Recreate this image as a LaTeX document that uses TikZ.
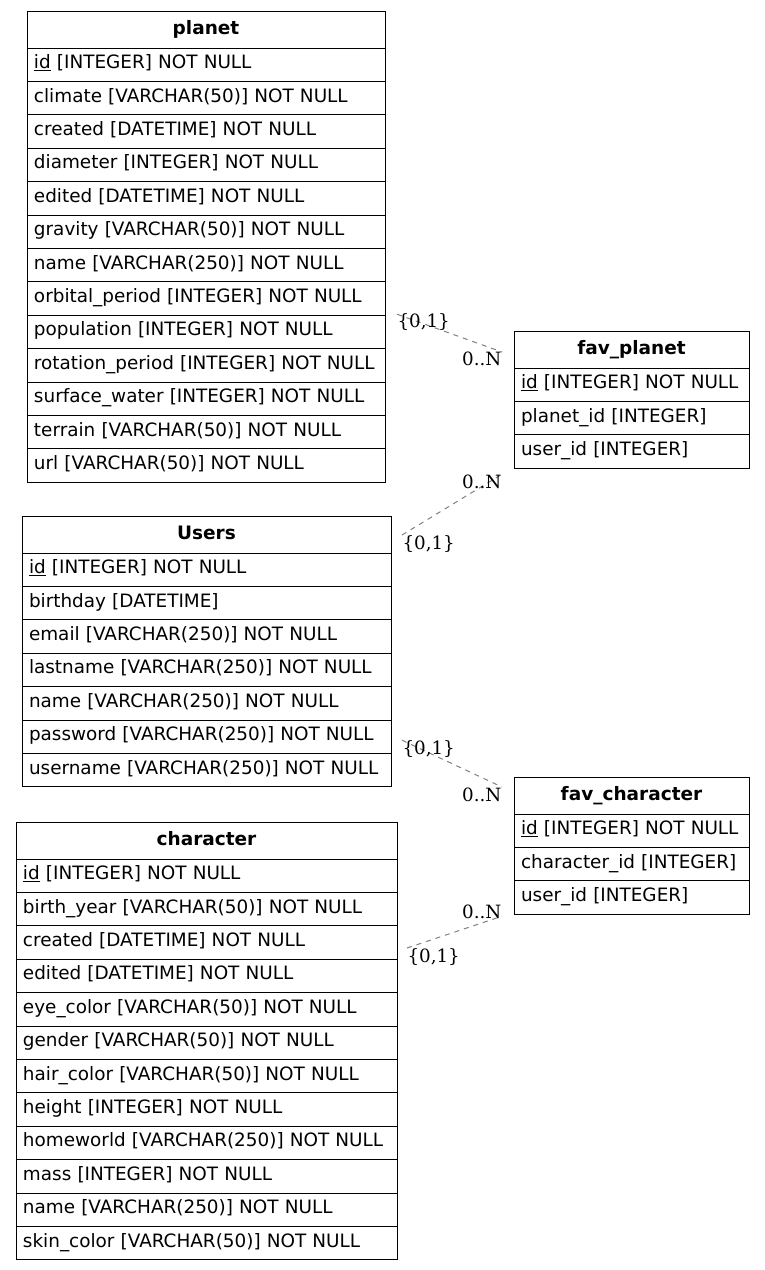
\documentclass[tikz,border=0pt]{standalone}
\usepackage{fontspec}
\setmainfont{DejaVu Sans}
\newfontfamily\cardfont{DejaVu Serif}
\usetikzlibrary{positioning,calc}

\tikzset{
  tabhead/.style={draw, line width=1pt, inner sep=0pt, outer sep=0pt,
    minimum height=37pt, text height=14pt, text depth=5pt,
    font=\fontsize{18.5}{22}\selectfont\bfseries},
  tabrow/.style={draw, line width=1pt, inner xsep=7pt, inner ysep=0pt, outer sep=0pt,
    minimum height=33.4pt, text height=14pt, text depth=6pt,
    align=left, font=\fontsize{18.4}{22}\selectfont},
  relation/.style={draw=gray, line width=1pt, dash pattern=on 5pt off 5pt},
  card/.style={font=\cardfont\fontsize{18.3}{22}\selectfont, inner sep=0pt},
}

% table: name, x, y, width, title, rows
\newcommand\ertable[6]{%
  \pgfmathsetlengthmacro\rowtw{#4-14pt}
  \node[tabhead, minimum width=#4, anchor=north west] (#1) at (#2,#3) {#5};
  \foreach \rowtext [count=\i] in {#6}
    \node[tabrow, minimum width=#4, text width=\rowtw, anchor=north west]
      (#1-\i) at ($(#1.south west)+(0,{(\i-1)*33.4})$) {\rowtext};
}

\begin{document}
\begin{tikzpicture}[x=1pt, y=-1pt]
    \useasboundingbox[fill=white] (0,0) rectangle (765,1270);

    % Tables
    \ertable{planet}{27}{11}{358}{planet}{\underline{id} [INTEGER] NOT NULL,
      climate [VARCHAR(50)] NOT NULL, created [DATETIME] NOT NULL,
      diameter [INTEGER] NOT NULL, edited [DATETIME] NOT NULL,
      gravity [VARCHAR(50)] NOT NULL, name [VARCHAR(250)] NOT NULL,
      orbital\_period [INTEGER] NOT NULL, population [INTEGER] NOT NULL,
      rotation\_period [INTEGER] NOT NULL, surface\_water [INTEGER] NOT NULL,
      terrain [VARCHAR(50)] NOT NULL, url [VARCHAR(50)] NOT NULL}
    \ertable{users}{22}{516}{369}{Users}{\underline{id} [INTEGER] NOT NULL,
      birthday [DATETIME], email [VARCHAR(250)] NOT NULL,
      lastname [VARCHAR(250)] NOT NULL, name [VARCHAR(250)] NOT NULL,
      password [VARCHAR(250)] NOT NULL, username [VARCHAR(250)] NOT NULL}
    \ertable{character}{16}{822}{381}{character}{\underline{id} [INTEGER] NOT NULL,
      birth\_year [VARCHAR(50)] NOT NULL, created [DATETIME] NOT NULL,
      edited [DATETIME] NOT NULL, eye\_color [VARCHAR(50)] NOT NULL,
      gender [VARCHAR(50)] NOT NULL, hair\_color [VARCHAR(50)] NOT NULL,
      height [INTEGER] NOT NULL, homeworld [VARCHAR(250)] NOT NULL,
      mass [INTEGER] NOT NULL, name [VARCHAR(250)] NOT NULL,
      skin\_color [VARCHAR(50)] NOT NULL}
    \ertable{favplanet}{514}{331}{235}{fav\_planet}{\underline{id} [INTEGER] NOT NULL,
      planet\_id [INTEGER], user\_id [INTEGER]}
    \ertable{favcharacter}{514}{777}{235}{fav\_character}{\underline{id} [INTEGER] NOT NULL,
      character\_id [INTEGER], user\_id [INTEGER]}

    % Relations
    \draw[relation] ($(planet-8.south east)+(12,-1)$) -- ($(favplanet.west)+(-12,2.5)$)
        node[card, at start, anchor=north west, yshift=1pt] {\{0,1\}}
        node[card, at end, anchor=north east, yshift=1pt] {0..N};
    \draw[relation] ($(users.east)+(11,0.5)$) -- ($(favplanet-3.south west)+(-12,6)$)
        node[card, at start, anchor=north west] {\{0,1\}}
        node[card, at end, anchor=north east] {0..N};
    \draw[relation] ($(users-6.east)+(11,3.5)$) -- ($(favcharacter.west)+(-12,-8.5)$)
        node[card, at start, anchor=north west] {\{0,1\}}
        node[card, at end, anchor=north east] {0..N};
    \draw[relation] ($(character-3.east)+(10,5.5)$) -- ($(favcharacter-3.south west)+(-12,2)$)
        node[card, at start, anchor=north west] {\{0,1\}}
        node[card, at end, anchor=south east, yshift=-3pt] {0..N};
\end{tikzpicture}
\end{document}
